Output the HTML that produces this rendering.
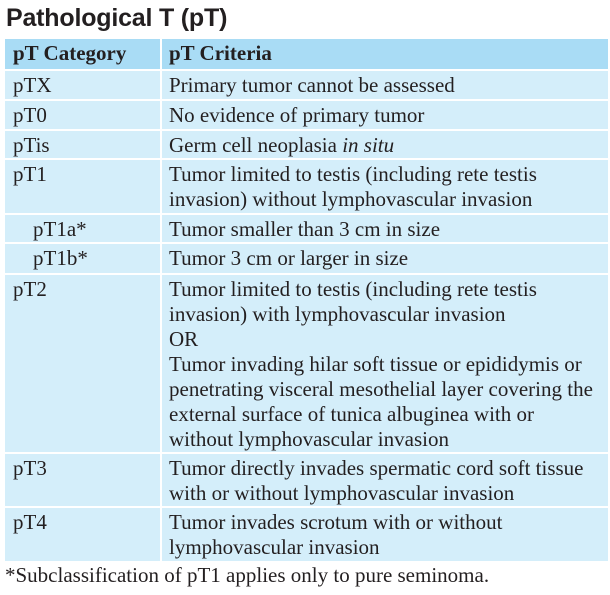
<!DOCTYPE html>
<html><head><style>
body{margin:0;width:610px;height:595px;background:#fff;position:relative;overflow:hidden;color:#231f20}
.t{position:absolute;left:6px;top:3px;font:bold 25px/30px "Liberation Sans",sans-serif;letter-spacing:-0.2px}
.tb{position:absolute;left:5px;top:39px;width:603px}
.r{display:flex;background:#d4eefa;border-top:2px solid #fff;font:21px/25px "Liberation Serif",serif;box-sizing:border-box}
.r:first-child{border-top:none}
.h{background:#a9dcf5;font-weight:bold}
.c1{width:157px;padding:2px 0 0 8px;box-sizing:border-box;border-right:2px solid #fff}
.c2{flex:1;padding:2px 0 0 7px;white-space:nowrap}
.fn{position:absolute;left:5px;top:563px;font:21px/25px "Liberation Serif",serif}
</style></head><body>
<div class="t">Pathological T (pT)</div>
<div class="tb">
<div class="r h" style="height:30px"><div class="c1">pT Category</div><div class="c2">pT Criteria</div></div>
<div class="r" style="height:30px"><div class="c1">pTX</div><div class="c2">Primary tumor cannot be assessed</div></div>
<div class="r" style="height:30px"><div class="c1">pT0</div><div class="c2">No evidence of primary tumor</div></div>
<div class="r" style="height:29px"><div class="c1">pTis</div><div class="c2">Germ cell neoplasia <i>in situ</i></div></div>
<div class="r" style="height:55px"><div class="c1">pT1</div><div class="c2">Tumor limited to testis (including rete testis<br>invasion) without lymphovascular invasion</div></div>
<div class="r" style="height:29px"><div class="c1" style="padding-left:28px">pT1a*</div><div class="c2">Tumor smaller than 3 cm in size</div></div>
<div class="r" style="height:31px"><div class="c1" style="padding-left:28px">pT1b*</div><div class="c2">Tumor 3 cm or larger in size</div></div>
<div class="r" style="height:179px"><div class="c1">pT2</div><div class="c2">Tumor limited to testis (including rete testis<br>invasion) with lymphovascular invasion<br>OR<br>Tumor invading hilar soft tissue or epididymis or<br>penetrating visceral mesothelial layer covering the<br>external surface of tunica albuginea with or<br>without lymphovascular invasion</div></div>
<div class="r" style="height:54px"><div class="c1">pT3</div><div class="c2">Tumor directly invades spermatic cord soft tissue<br>with or without lymphovascular invasion</div></div>
<div class="r" style="height:55px"><div class="c1">pT4</div><div class="c2">Tumor invades scrotum with or without<br>lymphovascular invasion</div></div>
</div>
<div class="fn">*Subclassification of pT1 applies only to pure seminoma.</div>
</body></html>
